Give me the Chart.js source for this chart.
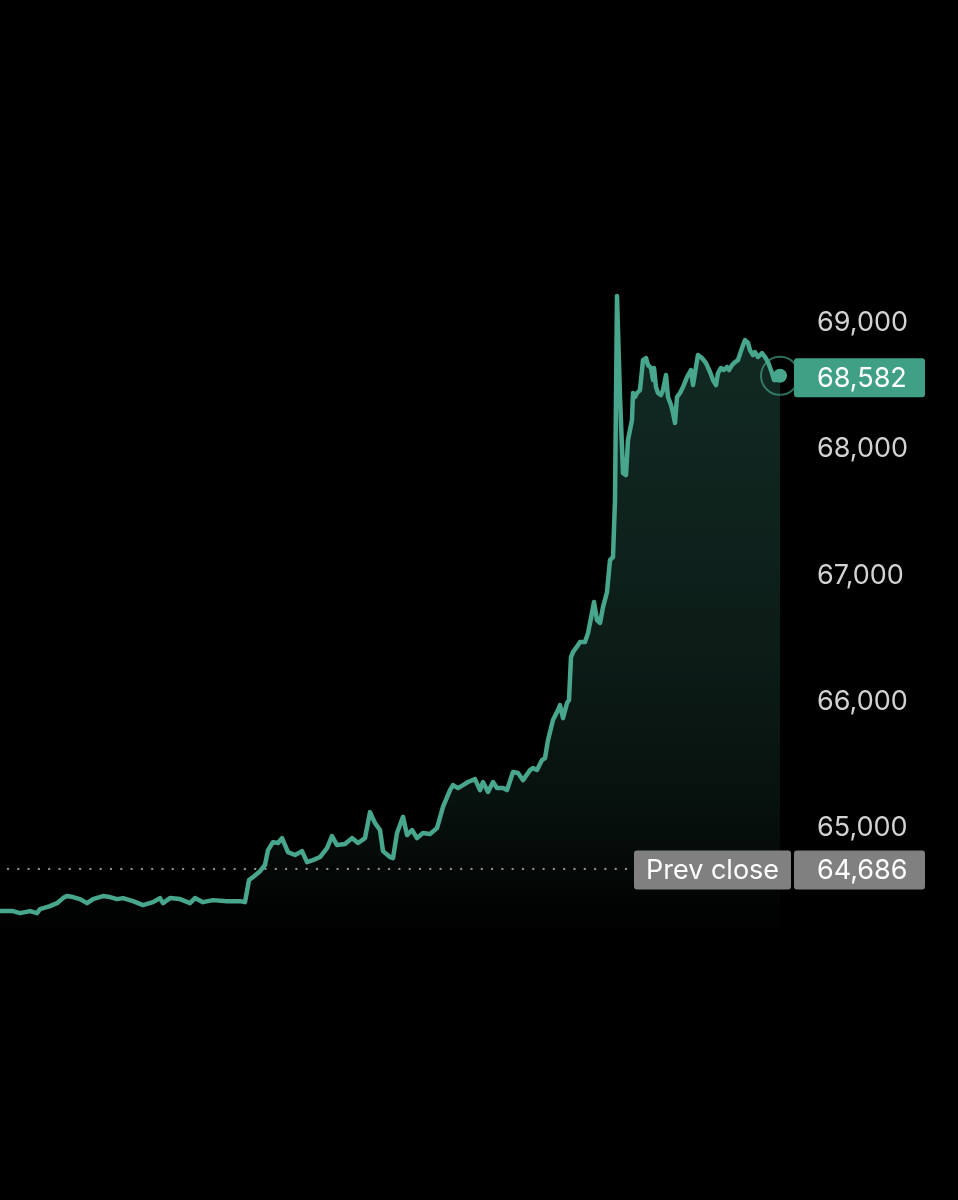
<!DOCTYPE html>
<html>
<head>
<meta charset="utf-8">
<script src="https://cdn.jsdelivr.net/npm/chart.js@4.4.1/dist/chart.umd.min.js"></script>
<style>
  html, body { margin: 0; padding: 0; background: #000; }
  #wrap { width: 958px; height: 1200px; position: relative; }
</style>
</head>
<body>
<div id="wrap"><canvas id="priceChart"></canvas></div>
<script>
// sample time (arbitrary intraday units) and price
const times = [0, 13, 20, 30, 37, 40, 50, 57, 63, 67, 73, 80, 87, 93, 103, 110, 117, 123, 133, 143,
  153, 160, 163, 170, 180, 190, 195, 203, 213, 227, 240, 245, 249, 253, 260, 265, 268, 273, 278, 282,
  288, 295, 302, 307, 313, 320, 327, 332, 337, 345, 352, 358, 365, 370, 375, 380, 383, 390, 393, 397,
  403, 407, 412, 417, 423, 430, 437, 443, 450, 453, 458, 463, 468, 475, 480, 483, 488, 493, 497, 503,
  507, 513, 518, 523, 530, 533, 537, 542, 545, 548, 553, 558, 560, 563, 567, 569, 571, 573, 578, 580,
  585, 588, 592, 594, 597, 600, 603, 607, 610, 613, 615, 617, 620, 623, 626, 628, 632, 633, 635, 637,
  640, 643, 646, 648, 651, 653, 654, 656, 658, 661, 663, 666, 668, 671, 673, 675, 677, 680, 683, 687,
  691, 693, 696, 698, 702, 706, 710, 713, 716, 718, 721, 724, 727, 729, 732, 735, 738, 742, 745, 748,
  750, 753, 755, 758, 762, 765, 768, 772, 774, 777, 780];
const prices = [64344, 64344, 64328, 64344, 64328, 64360, 64384, 64407, 64447, 64463, 64455, 64439, 64407, 64439, 64463, 64455, 64439, 64447, 64423, 64392,
  64415, 64447, 64407, 64447, 64439, 64407, 64447, 64415, 64431, 64423, 64423, 64415, 64590, 64613, 64660, 64709, 64827, 64890, 64883, 64922,
  64811, 64788, 64819, 64732, 64748, 64772, 64843, 64938, 64867, 64875, 64922, 64883, 64922, 65128, 65041, 64986, 64819, 64772, 64764, 64962,
  65091, 64946, 64986, 64922, 64962, 64954, 65001, 65170, 65302, 65342, 65318, 65342, 65366, 65389, 65302, 65366, 65287, 65366, 65318, 65318,
  65302, 65445, 65437, 65381, 65460, 65476, 65461, 65540, 65556, 65698, 65857, 65936, 65975, 65872, 65991, 66015, 66355, 66395, 66450, 66474,
  66474, 66545, 66704, 66791, 66648, 66625, 66751, 66870, 67123, 67147, 67598, 69214, 68414, 67812, 67796, 68074, 68232, 68446, 68414, 68446,
  68469, 68707, 68723, 68667, 68644, 68549, 68644, 68493, 68446, 68430, 68469, 68588, 68414, 68351, 68287, 68208, 68414, 68446, 68493, 68572,
  68628, 68509, 68652, 68747, 68723, 68683, 68612, 68549, 68509, 68604, 68644, 68628, 68652, 68628, 68667, 68691, 68707, 68802, 68865, 68842,
  68786, 68747, 68770, 68731, 68762, 68731, 68691, 68604, 68549, 68549, 68582];
const tickValues = [65000, 66000, 67000, 68000, 69000];
const prevClose = 64686;
const lastPrice = 68582;
const prevCloseLabel = 'Prev close';

const lineGreen = '#47a68b';
const badgeGreen = '#40a086';
const badgeGray = '#808080';
const fontFamily = 'Inter, "Noto Sans", sans-serif';
const labelFont = '27px ' + fontFamily;

function fmt(v) {
  return v.toLocaleString('en-US');
}

// dotted previous-close line, drawn under the price line
const prevClosePlugin = {
  id: 'prevCloseLine',
  beforeDatasetsDraw(chart) {
    const { ctx, chartArea, scales } = chart;
    const y = scales.y.getPixelForValue(prevClose) + 1;
    ctx.save();
    ctx.strokeStyle = '#8c8c8c';
    ctx.lineWidth = 2.4;
    ctx.lineCap = 'round';
    ctx.setLineDash([0, 10.3]);
    ctx.beginPath();
    ctx.moveTo(chartArea.left + 8, y);
    ctx.lineTo(chartArea.right - 150, y);
    ctx.stroke();
    ctx.restore();
  }
};

// ring round last point + the price badges on the axis
const badgePlugin = {
  id: 'badges',
  afterDraw(chart) {
    const { ctx, chartArea, scales } = chart;
    const meta = chart.getDatasetMeta(0);
    const last = meta.data[meta.data.length - 1];

    ctx.save();
    ctx.strokeStyle = 'rgba(71,166,139,0.65)';
    ctx.lineWidth = 2;
    ctx.beginPath();
    ctx.arc(last.x, last.y, 19, 0, Math.PI * 2);
    ctx.stroke();

    ctx.font = labelFont;
    ctx.textBaseline = 'middle';
    const r = chartArea.right;

    function box(x1, x2, yc, color) {
      ctx.fillStyle = color;
      ctx.beginPath();
      ctx.roundRect(x1, yc - 19.5, x2 - x1, 39, 3);
      ctx.fill();
    }

    // last price badge
    const yLast = scales.y.getPixelForValue(lastPrice) + 2;
    box(r + 14, r + 145, yLast, badgeGreen);
    ctx.fillStyle = '#ffffff';
    ctx.textAlign = 'left';
    ctx.fillText(fmt(lastPrice), r + 37, yLast + 1);

    // previous close badges
    const yPrev = scales.y.getPixelForValue(prevClose) + 2;
    box(r - 146, r + 11, yPrev, badgeGray);
    box(r + 14, r + 145, yPrev, badgeGray);
    ctx.fillStyle = '#ffffff';
    ctx.fillText(prevCloseLabel, r - 134, yPrev + 1);
    ctx.fillText(fmt(prevClose), r + 37, yPrev + 1);
    ctx.restore();
  }
};

const points = times.map((t, i) => ({ x: t, y: prices[i] }));

const ctx = document.getElementById('priceChart').getContext('2d');
new Chart(ctx, {
  type: 'line',
  data: {
    datasets: [{
      data: points,
      borderColor: lineGreen,
      borderWidth: 4.5,
      borderJoinStyle: 'round',
      borderCapStyle: 'round',
      tension: 0,
      clip: false,
      fill: 'start',
      backgroundColor(c) {
        const area = c.chart.chartArea;
        if (!area) return 'rgba(71,166,139,0.15)';
        const g = c.chart.ctx.createLinearGradient(0, area.top, 0, area.bottom + 6);
        g.addColorStop(0, 'rgba(71,166,139,0.26)');
        g.addColorStop(0.22, 'rgba(71,166,139,0.23)');
        g.addColorStop(0.575, 'rgba(71,166,139,0.17)');
        g.addColorStop(0.8, 'rgba(71,166,139,0.10)');
        g.addColorStop(1, 'rgba(71,166,139,0)');
        return g;
      },
      pointRadius: (c) => (c.dataIndex === times.length - 1 ? 7 : 0),
      pointBackgroundColor: lineGreen,
      pointBorderWidth: 0,
      pointHoverRadius: 0
    }]
  },
  options: {
    responsive: true,
    maintainAspectRatio: false,
    animation: false,
    layout: { autoPadding: false, padding: { top: 272.5, bottom: 270.7, left: 0, right: 0 } },
    plugins: { legend: { display: false }, tooltip: { enabled: false } },
    scales: {
      x: { type: 'linear', min: 0, max: 780, display: false },
      y: {
        position: 'right',
        min: 64200,
        max: 69400,
        grid: { display: false, drawTicks: false },
        border: { display: false },
        afterBuildTicks(scale) {
          scale.ticks = tickValues.map(v => ({ value: v }));
        },
        afterFit(scale) { scale.width = 178; },
        ticks: {
          padding: 37,
          color: '#d2d2d2',
          font: { family: fontFamily, size: 27 },
          callback: (v) => fmt(v)
        }
      }
    }
  },
  plugins: [prevClosePlugin, badgePlugin]
});
</script>
</body>
</html>
